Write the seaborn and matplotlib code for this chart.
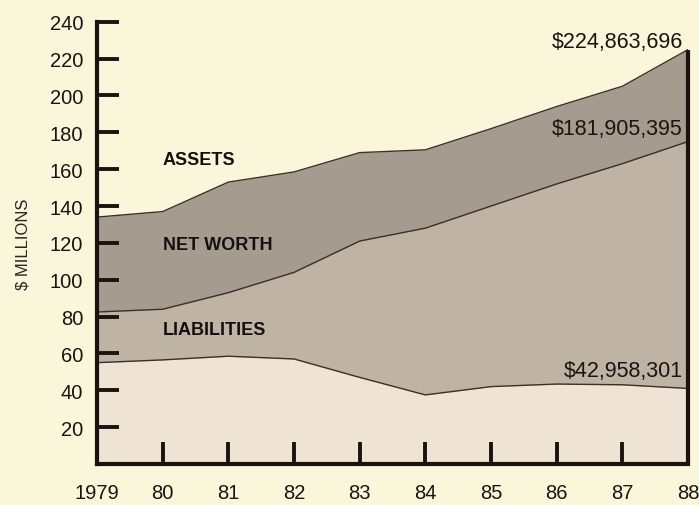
import matplotlib
matplotlib.use("Agg")
import matplotlib.pyplot as plt
import seaborn as sns
import pandas as pd

years = [1979, 1980, 1981, 1982, 1983, 1984, 1985, 1986, 1987, 1988]
assets = [134, 137, 153, 158.5, 169, 170.5, 182, 194, 205, 224.9]
net_worth = [82.5, 84, 93, 104, 121, 128, 140, 152, 163, 175]
liabilities = [55, 56.5, 58.5, 57, 47, 37.5, 42, 43.4, 43, 41]
tick_labels = ["1979", "80", "81", "82", "83", "84", "85", "86", "87", "88"]
y_ticks = [20, 40, 60, 80, 100, 120, 140, 160, 180, 200, 220, 240]
value_labels = ["$224,863,696", "$181,905,395", "$42,958,301"]
band_labels = ["ASSETS", "NET WORTH", "LIABILITIES"]

df = pd.DataFrame({"year": years, "assets": assets,
                   "net_worth": net_worth, "liabilities": liabilities})

sns.set_style("ticks")
plt.rcParams['font.family'] = ['Liberation Sans', 'DejaVu Sans']

bg = "#faf6da"
fig = plt.figure(figsize=(6.99, 5.06), dpi=100, facecolor=bg)
ax = fig.add_axes([0.1388, 0.081, 0.8455, 0.874])
ax.set_facecolor(bg)
ax.set_axisbelow(False)

c_assets = "#a59c8f"
c_net = "#bfb3a4"
c_liab = "#efe3d3"
ax.fill_between(df.year, 0, df.assets, color=c_assets, lw=0, zorder=0.5)
ax.fill_between(df.year, 0, df.net_worth, color=c_net, lw=0, zorder=0.6)
ax.fill_between(df.year, 0, df.liabilities, color=c_liab, lw=0, zorder=0.7)
for col in ["assets", "net_worth", "liabilities"]:
    sns.lineplot(data=df, x="year", y=col, ax=ax, color="#3a3028", lw=1.0, zorder=1)

ax.set_xlim(1979, 1988)
ax.set_ylim(0, 240)
ax.set_xticks(years)
ax.set_xticklabels(tick_labels)
ax.set_yticks(y_ticks)
ax.set_yticklabels([str(v) for v in y_ticks])
ax.tick_params(axis='both', direction='in', length=16, width=2.8, color="#1a1410",
               labelsize=14.5, labelcolor="#1a1410")
ax.tick_params(axis='x', pad=14)
ax.tick_params(axis='y', pad=10)
for s in ["top", "right"]:
    ax.spines[s].set_visible(False)
for s in ["left", "bottom"]:
    ax.spines[s].set_linewidth(3)
    ax.spines[s].set_color("#1a1410")
ax.plot([years[-1], years[-1]], [0, assets[-1]], color="#1a1410", lw=3,
        solid_capstyle='butt', clip_on=False, zorder=3)
ax.set_xlabel("")
ax.set_ylabel("$ MILLIONS", fontsize=12, color="#2a2420", labelpad=14)

lab_font = dict(family=['Liberation Sans Narrow', 'Liberation Sans', 'DejaVu Sans'],
                fontweight='bold', fontsize=13, color="#141010", va='center', ha='left')
ax.text(1980.0, 165.5, band_labels[0], **lab_font)
ax.text(1980.0, 119, band_labels[1], **lab_font)
ax.text(1980.0, 73, band_labels[2], **lab_font)

vfont = dict(fontsize=15.5, color="#1a1410", ha='right', va='center')
ax.text(1987.92, 229.5, value_labels[0], **vfont)
ax.text(1987.92, 182.3, value_labels[1], **vfont)
ax.text(1987.92, 50.5, value_labels[2], **vfont)

fig.savefig("out.png", dpi=100, facecolor=bg)
